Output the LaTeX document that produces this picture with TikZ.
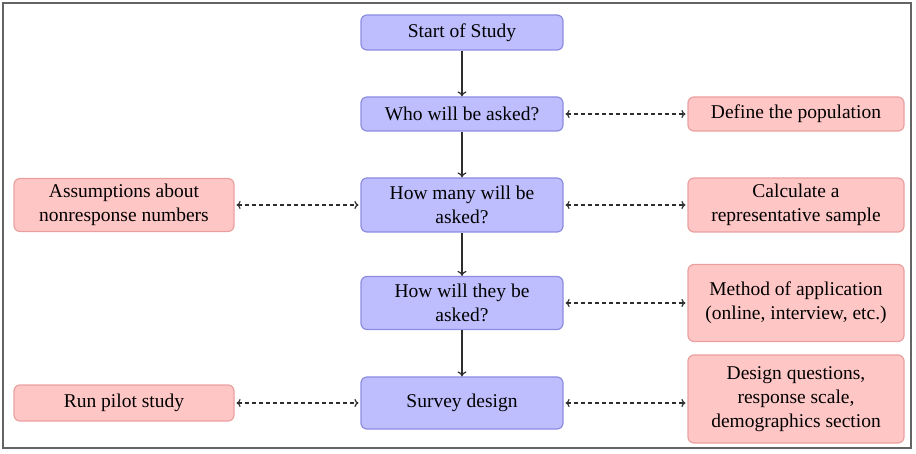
\documentclass[tikz,border=0pt]{standalone}
\usepackage{fontspec}
\setmainfont{Liberation Serif}
\usetikzlibrary{arrows.meta}
\definecolor{bluefill}{RGB}{190,190,255}
\definecolor{blueline}{RGB}{140,140,225}
\definecolor{redfill}{RGB}{255,198,198}
\definecolor{redline}{RGB}{235,160,160}
\definecolor{arrowcol}{RGB}{45,45,45}
\definecolor{framecol}{RGB}{100,100,100}
\tikzset{
  base/.style={rounded corners=6pt, line width=1.2pt, align=center, inner sep=0pt,
    font=\fontsize{19.5}{24}\selectfont},
  mainbox/.style={base, draw=blueline, fill=bluefill, minimum width=202pt},
  sidebox/.style={base, draw=redline, fill=redfill},
  flow/.style={-{To[length=5pt,width=9pt]}, line width=1.2pt, draw=arrowcol},
  link/.style={{To[length=4pt,width=8pt]}-{To[length=4pt,width=8pt]}, line width=1.2pt, draw=arrowcol,
    dash pattern=on 4pt off 3pt, shorten <=2pt, shorten >=2pt}
}
\begin{document}
\begin{tikzpicture}[x=1pt,y=-1pt]
\useasboundingbox (0,0) rectangle (916,454);
\draw[framecol, line width=2pt] (3,3) rectangle (911,448);

\node[mainbox, minimum height=35pt] (start) at (462,32.5) {Start of Study};
\node[mainbox, minimum height=34pt] (who) at (462,114) {Who will be asked?};
\node[mainbox, minimum height=54pt] (many) at (462,205) {How many will be\\asked?};
\node[mainbox, minimum height=53pt] (how) at (462,303) {How will they be\\asked?};
\node[mainbox, minimum height=52pt] (survey) at (462,403) {Survey design};

\node[sidebox, minimum width=220pt, minimum height=53pt] (assume) at (124,205) {Assumptions about\\nonresponse numbers};
\node[sidebox, minimum width=220pt, minimum height=36pt] (pilot) at (124,403) {Run pilot study};

\node[sidebox, minimum width=216pt, minimum height=34pt] (define) at (796,114) {Define the population};
\node[sidebox, minimum width=216pt, minimum height=54pt] (calc) at (796,205) {Calculate a\\representative sample};
\node[sidebox, minimum width=216pt, minimum height=77pt] (method) at (796,303) {Method of application\\(online, interview, etc.)};
\node[sidebox, minimum width=216pt, minimum height=88pt] (design) at (796,399) {Design questions,\\response scale,\\demographics section};

\draw[flow] (start) -- (who);
\draw[flow] (who) -- (many);
\draw[flow] (many) -- (how);
\draw[flow] (how) -- (survey);

\draw[link] (who.east) -- (define.west);
\draw[link] (many.east) -- (calc.west);
\draw[link] (how.east) -- (method.west |- how.east);
\draw[link] (survey.east) -- (design.west |- survey.east);
\draw[link] (assume.east) -- (many.west |- assume.east);
\draw[link] (pilot.east) -- (survey.west |- pilot.east);
\end{tikzpicture}
\end{document}
